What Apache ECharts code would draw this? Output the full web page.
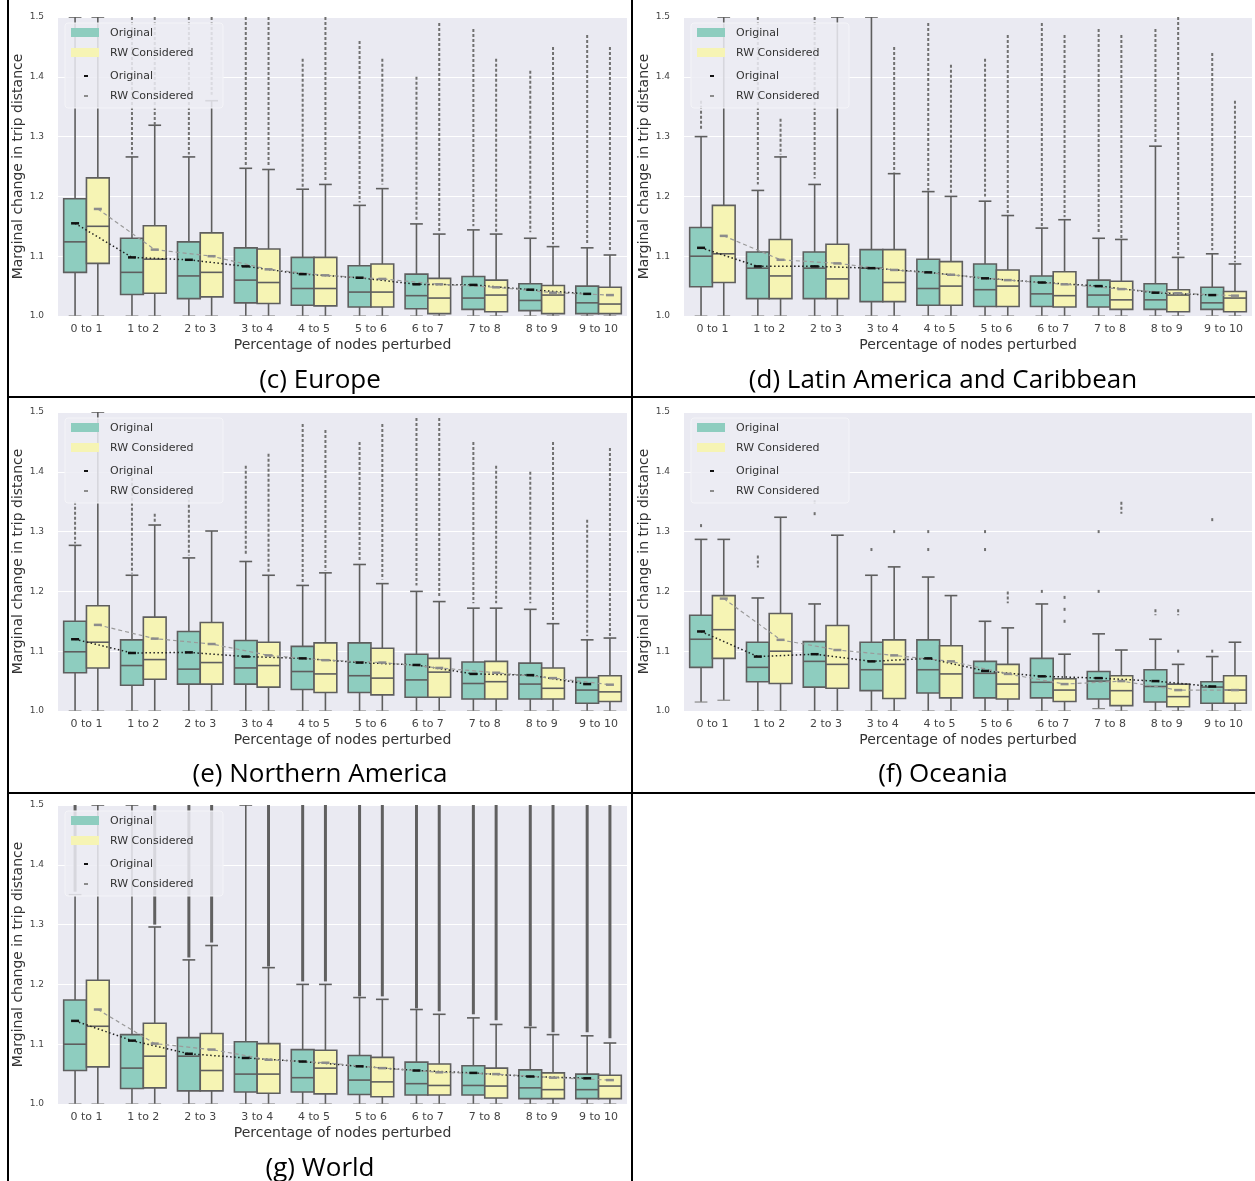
<!DOCTYPE html>
<html>
<head>
<meta charset="utf-8">
<script src="https://cdn.jsdelivr.net/npm/echarts@6/dist/echarts.min.js"></script>
<style>
  html, body { margin: 0; padding: 0; background: #fff; }
  #chart { width: 1255px; height: 1181px; }
</style>
</head>
<body>
<div id="chart"></div>
<script>
// categories on the x axis
const categories = ['0 to 1', '1 to 2', '2 to 3', '3 to 4', '4 to 5',
                    '5 to 6', '6 to 7', '7 to 8', '8 to 9', '9 to 10'];
const hueNames = ['Original', 'RW Considered'];

// boxes: [lower whisker, q1, median, q3, upper whisker]
// outliers: list of [from, to] runs of outlier points for each box
// means: pointplot values

// (c) Europe
const europeOrigBox = [[1.0,1.073,1.124,1.196,1.5],[1.0,1.036,1.073,1.130,1.266],[1.0,1.029,1.067,1.124,1.266],[1.0,1.022,1.060,1.114,1.247],[1.0,1.018,1.046,1.098,1.212],[1.0,1.015,1.040,1.084,1.185],[1.0,1.012,1.034,1.070,1.154],[1.0,1.011,1.030,1.066,1.144],[1.0,1.009,1.026,1.054,1.130],[1.0,1.004,1.022,1.050,1.114]];
const europeRwBox = [[1.0,1.088,1.150,1.231,1.5],[1.0,1.038,1.095,1.151,1.319],[1.0,1.032,1.073,1.139,1.360],[1.0,1.021,1.056,1.112,1.245],[1.0,1.017,1.046,1.098,1.220],[1.0,1.015,1.040,1.087,1.213],[1.0,1.004,1.030,1.063,1.137],[1.0,1.007,1.035,1.060,1.137],[1.0,1.004,1.035,1.051,1.116],[1.0,1.004,1.020,1.048,1.102]];
const europeOrigOut = [[],[[1.27,1.5]],[[1.27,1.5]],[[1.25,1.5]],[[1.215,1.43]],[[1.19,1.46]],[[1.16,1.40]],[[1.15,1.48]],[[1.14,1.41]],[[1.12,1.47]]];
const europeRwOut = [[],[[1.32,1.5]],[[1.37,1.5]],[[1.25,1.5]],[[1.225,1.5]],[[1.22,1.43]],[[1.14,1.49]],[[1.14,1.43]],[[1.12,1.45]],[[1.11,1.45]]];
const europeOrigMean = [1.155,1.098,1.094,1.083,1.070,1.064,1.053,1.052,1.044,1.037];
const europeRwMean = [1.179,1.111,1.100,1.078,1.068,1.062,1.053,1.048,1.039,1.035];

// (d) Latin America and Caribbean
const latamOrigBox = [[1.0,1.049,1.100,1.148,1.300],[1.0,1.029,1.080,1.107,1.210],[1.0,1.029,1.080,1.107,1.220],[1.0,1.024,1.080,1.111,1.5],[1.0,1.018,1.046,1.095,1.208],[1.0,1.016,1.044,1.087,1.192],[1.0,1.016,1.037,1.067,1.147],[1.0,1.015,1.035,1.060,1.130],[1.0,1.011,1.027,1.054,1.284],[1.0,1.011,1.022,1.048,1.104]];
const latamRwBox = [[1.0,1.056,1.104,1.185,1.5],[1.0,1.029,1.067,1.128,1.266],[1.0,1.029,1.062,1.120,1.5],[1.0,1.024,1.056,1.111,1.238],[1.0,1.018,1.050,1.091,1.200],[1.0,1.016,1.050,1.077,1.168],[1.0,1.015,1.034,1.074,1.161],[1.0,1.011,1.027,1.058,1.128],[1.0,1.007,1.035,1.044,1.098],[1.0,1.007,1.030,1.041,1.087]];
const latamOrigOut = [[[1.31,1.36]],[[1.22,1.5]],[[1.23,1.5]],[],[[1.21,1.49]],[[1.20,1.43]],[[1.15,1.49]],[[1.14,1.48]],[[1.29,1.48]],[[1.11,1.44]]];
const latamRwOut = [[],[[1.27,1.33]],[],[[1.24,1.45]],[[1.205,1.42]],[[1.17,1.47]],[[1.165,1.47]],[[1.13,1.47]],[[1.10,1.5]],[[1.09,1.36]]];
const latamOrigMean = [1.114,1.083,1.083,1.080,1.073,1.063,1.056,1.050,1.039,1.035];
const latamRwMean = [1.134,1.094,1.088,1.077,1.069,1.060,1.053,1.045,1.038,1.034];

// (e) Northern America
const namOrigBox = [[1.0,1.064,1.099,1.150,1.277],[1.0,1.043,1.076,1.119,1.227],[1.0,1.045,1.070,1.133,1.256],[1.0,1.045,1.072,1.118,1.250],[1.0,1.036,1.066,1.108,1.210],[1.0,1.031,1.059,1.114,1.245],[1.0,1.023,1.052,1.095,1.200],[1.0,1.020,1.046,1.082,1.172],[1.0,1.020,1.045,1.080,1.170],[1.0,1.013,1.035,1.056,1.119]];
const namRwBox = [[1.0,1.072,1.115,1.176,1.5],[1.0,1.053,1.086,1.157,1.311],[1.0,1.045,1.081,1.148,1.301],[1.0,1.040,1.076,1.115,1.227],[1.0,1.031,1.062,1.114,1.231],[1.0,1.027,1.055,1.105,1.213],[1.0,1.023,1.065,1.088,1.183],[1.0,1.020,1.049,1.083,1.172],[1.0,1.020,1.038,1.072,1.146],[1.0,1.016,1.032,1.059,1.122]];
const namOrigOut = [[[1.28,1.35]],[[1.23,1.39]],[[1.26,1.37]],[[1.26,1.41]],[[1.215,1.48]],[[1.25,1.45]],[[1.21,1.49]],[[1.18,1.45]],[[1.18,1.40]],[[1.125,1.32]]];
const namRwOut = [[],[[1.315,1.33]],[],[[1.23,1.43]],[[1.235,1.47]],[[1.22,1.48]],[[1.19,1.49]],[[1.18,1.41]],[[1.15,1.45]],[[1.125,1.44]]];
const namOrigMean = [1.120,1.097,1.098,1.091,1.088,1.081,1.077,1.062,1.060,1.045];
const namRwMean = [1.144,1.121,1.112,1.093,1.085,1.081,1.072,1.064,1.055,1.044];

// (f) Oceania
const oceOrigBox = [[1.015,1.073,1.120,1.160,1.287],[1.0,1.049,1.073,1.115,1.189],[1.0,1.040,1.083,1.116,1.179],[1.0,1.034,1.069,1.115,1.227],[1.0,1.030,1.069,1.119,1.224],[1.0,1.022,1.063,1.083,1.150],[1.0,1.022,1.048,1.088,1.179],[1.004,1.020,1.050,1.066,1.129],[1.0,1.015,1.041,1.069,1.120],[1.0,1.013,1.040,1.049,1.091]];
const oceRwBox = [[1.018,1.088,1.136,1.193,1.287],[1.0,1.046,1.100,1.163,1.324],[1.0,1.038,1.078,1.143,1.294],[1.0,1.021,1.078,1.119,1.241],[1.0,1.022,1.062,1.109,1.193],[1.0,1.020,1.045,1.078,1.139],[1.0,1.016,1.035,1.054,1.095],[1.0,1.009,1.034,1.059,1.102],[1.0,1.007,1.024,1.045,1.078],[1.0,1.013,1.035,1.059,1.115]];
const oceOrigOut = [[[1.31,1.31]],[[1.24,1.26]],[[1.33,1.33],[1.35,1.35]],[[1.27,1.27]],[[1.27,1.27],[1.30,1.30]],[[1.27,1.27],[1.30,1.30]],[[1.20,1.20]],[[1.20,1.20],[1.30,1.30]],[[1.16,1.17]],[[1.10,1.10],[1.32,1.32]]];
const oceRwOut = [[],[],[],[[1.30,1.30]],[],[[1.18,1.20]],[[1.15,1.15],[1.17,1.17],[1.19,1.19]],[[1.33,1.35]],[[1.10,1.10],[1.16,1.17]],[]];
const oceOrigMean = [1.133,1.091,1.095,1.083,1.088,1.067,1.058,1.055,1.050,1.041];
const oceRwMean = [1.188,1.119,1.102,1.093,1.083,1.062,1.045,1.050,1.035,1.035];

// (g) World
const worldOrigBox = [[1.0,1.056,1.100,1.174,1.350],[1.0,1.026,1.060,1.116,1.5],[1.0,1.022,1.080,1.111,1.241],[1.0,1.020,1.050,1.104,1.5],[1.0,1.020,1.044,1.091,1.200],[1.0,1.016,1.040,1.081,1.178],[1.0,1.015,1.034,1.070,1.158],[1.0,1.015,1.031,1.064,1.144],[1.0,1.009,1.027,1.057,1.128],[1.0,1.009,1.024,1.050,1.114]];
const worldRwBox = [[1.0,1.062,1.130,1.207,1.5],[1.0,1.027,1.080,1.135,1.296],[1.0,1.022,1.056,1.118,1.265],[1.0,1.018,1.050,1.101,1.228],[1.0,1.017,1.060,1.090,1.200],[1.0,1.012,1.037,1.078,1.175],[1.0,1.015,1.031,1.067,1.150],[1.0,1.010,1.030,1.060,1.133],[1.0,1.009,1.024,1.052,1.116],[1.0,1.009,1.030,1.048,1.102]];
const worldOrigOut = [[[1.355,1.5]],[],[[1.245,1.5]],[],[[1.205,1.5]],[[1.18,1.5]],[[1.16,1.5]],[[1.15,1.5]],[[1.13,1.5]],[[1.12,1.5]]];
const worldRwOut = [[],[[1.30,1.5]],[[1.27,1.5]],[[1.23,1.5]],[[1.205,1.5]],[[1.18,1.5]],[[1.155,1.5]],[[1.14,1.5]],[[1.12,1.5]],[[1.11,1.5]]];
const worldOrigMean = [1.139,1.106,1.084,1.077,1.071,1.063,1.056,1.052,1.046,1.043];
const worldRwMean = [1.158,1.101,1.091,1.074,1.069,1.060,1.053,1.050,1.044,1.040];

const xName = 'Percentage of nodes perturbed';
const yName = 'Marginal change in trip distance';
const boxColors = ['#8ecdbf', '#f6f4b4'];
const edge = '#5e5e5e';
const font = 'DejaVu Sans';

const panels = [
  { caption: '(c) Europe', left: 58, top: 17, width: 569, capX: 320, capY: 381,
    box: [europeOrigBox, europeRwBox], out: [europeOrigOut, europeRwOut], mean: [europeOrigMean, europeRwMean], dense: false },
  { caption: '(d) Latin America and Caribbean', left: 684, top: 17, width: 568, capX: 943, capY: 381,
    box: [latamOrigBox, latamRwBox], out: [latamOrigOut, latamRwOut], mean: [latamOrigMean, latamRwMean], dense: false },
  { caption: '(e) Northern America', left: 58, top: 412, width: 569, capX: 320, capY: 775,
    box: [namOrigBox, namRwBox], out: [namOrigOut, namRwOut], mean: [namOrigMean, namRwMean], dense: false },
  { caption: '(f) Oceania', left: 684, top: 412, width: 568, capX: 943, capY: 775,
    box: [oceOrigBox, oceRwBox], out: [oceOrigOut, oceRwOut], mean: [oceOrigMean, oceRwMean], dense: false },
  { caption: '(g) World', left: 58, top: 805, width: 569, capX: 320, capY: 1169,
    box: [worldOrigBox, worldRwBox], out: [worldOrigOut, worldRwOut], mean: [worldOrigMean, worldRwMean], dense: true }
];
const plotHeight = 299;

// box + whiskers + caps
function renderBox(params, api) {
  const x = api.value(0);
  const lo = api.coord([x, api.value(1)]);
  const q1 = api.coord([x, api.value(2)]);
  const md = api.coord([x, api.value(3)]);
  const q3 = api.coord([x, api.value(4)]);
  const hi = api.coord([x, api.value(5)]);
  const w = api.size([0.4, 0])[0];
  const cx = q1[0];
  const cap = w * 0.28;
  const st = { stroke: edge, lineWidth: 1.6 };
  const light = { stroke: '#8a8a8a', lineWidth: 1.2 };
  return {
    type: 'group',
    children: [
      { type: 'line', shape: { x1: cx, y1: q3[1], x2: cx, y2: hi[1] }, style: st },
      { type: 'line', shape: { x1: cx, y1: q1[1], x2: cx, y2: lo[1] }, style: st },
      { type: 'line', shape: { x1: cx - cap, y1: hi[1], x2: cx + cap, y2: hi[1] }, style: st },
      { type: 'line', shape: { x1: cx - cap, y1: lo[1], x2: cx + cap, y2: lo[1] }, style: light },
      { type: 'rect', shape: { x: cx - w / 2, y: q3[1], width: w, height: q1[1] - q3[1] },
        style: { fill: api.visual('color'), stroke: edge, lineWidth: 1.6 } },
      { type: 'line', shape: { x1: cx - w / 2, y1: md[1], x2: cx + w / 2, y2: md[1] }, style: st }
    ]
  };
}

function makeOutRender(dense) {
  return function (params, api) {
    const a = api.coord([api.value(0), api.value(1)]);
    const b = api.coord([api.value(0), api.value(2)]);
    let y1 = b[1], y2 = a[1];
    if (y2 - y1 < 3) { const m = (y1 + y2) / 2; y1 = m - 1.5; y2 = m + 1.5; }
    return {
      type: 'line',
      shape: { x1: a[0], y1: y1, x2: a[0], y2: y2 },
      style: dense ? { stroke: '#606060', lineWidth: 3 }
                   : { stroke: '#707070', lineWidth: 2, lineDash: [3, 2] }
    };
  };
}

const grids = [], xAxes = [], yAxes = [], series = [], graphics = [];

panels.forEach((p, i) => {
  grids.push({ left: p.left, top: p.top, width: p.width, height: plotHeight,
    show: true, backgroundColor: '#eaeaf2', borderWidth: 0 });
  xAxes.push({
    type: 'category', gridIndex: i, data: categories,
    axisLine: { show: false }, axisTick: { show: false },
    axisLabel: { fontFamily: font, fontSize: 11, color: '#444', margin: 8 },
    splitLine: { show: false },
    name: xName, nameLocation: 'middle', nameGap: 22,
    nameTextStyle: { fontFamily: font, fontSize: 14, color: '#333' }
  });
  xAxes.push({ type: 'value', gridIndex: i, min: -0.5, max: 9.5, show: false });
  yAxes.push({
    type: 'value', gridIndex: i, min: 1.0, max: 1.5, interval: 0.1,
    axisLine: { show: false }, axisTick: { show: false },
    axisLabel: { fontFamily: font, fontSize: 9, color: '#444', margin: 14,
      formatter: v => v.toFixed(1) },
    splitLine: { show: true, lineStyle: { color: '#ffffff', width: 1.2 } },
    name: yName, nameLocation: 'middle', nameGap: 32,
    nameTextStyle: { fontFamily: font, fontSize: 14, color: '#333' }
  });

  [0, 1].forEach(h => {
    const off = h === 0 ? -0.2 : 0.2;
    const outData = [];
    p.out[h].forEach((runs, k) => runs.forEach(r => outData.push([k + off, r[0], r[1]])));
    series.push({
      type: 'custom', name: hueNames[h] + ' out', xAxisIndex: 2 * i + 1, yAxisIndex: i,
      clip: true, z: 2, silent: true,
      renderItem: makeOutRender(p.dense), data: outData
    });
    series.push({
      type: 'custom', name: hueNames[h], xAxisIndex: 2 * i + 1, yAxisIndex: i,
      clip: true, z: 3, silent: true,
      itemStyle: { color: boxColors[h] },
      renderItem: renderBox,
      data: p.box[h].map((b, k) => [k + off].concat(b))
    });
  });

  [0, 1].forEach(h => {
    const off = h === 0 ? -0.2 : 0.2;
    series.push({
      type: 'line', name: hueNames[h] + ' mean', xAxisIndex: 2 * i + 1, yAxisIndex: i,
      z: 5, silent: true,
      data: p.mean[h].map((v, k) => [k + off, v]),
      symbol: 'rect', symbolSize: [8, 2.5],
      itemStyle: { color: h === 0 ? '#111' : '#8c8c8c' },
      lineStyle: h === 0 ? { color: '#222', width: 1.5, type: [1.5, 2.5] }
                         : { color: '#9a9a9a', width: 1.2, type: [4, 3] }
    });
  });

  // legend box, drawn over the plot
  const lx = p.left + 7, ly = p.top + 6;
  const lt = (y, text) => ({ type: 'text', x: lx + 45, y: ly + y, z: 20,
    style: { text: text, font: '11px ' + font, fill: '#333', verticalAlign: 'middle' } });
  graphics.push(
    { type: 'rect', z: 20, shape: { x: lx, y: ly, width: 158, height: 85, r: 3 },
      style: { fill: 'rgba(236,236,243,0.85)', stroke: '#f4f4f8', lineWidth: 1 } },
    { type: 'rect', z: 20, shape: { x: lx + 6, y: ly + 5, width: 28, height: 9 }, style: { fill: boxColors[0] } },
    { type: 'rect', z: 20, shape: { x: lx + 6, y: ly + 25, width: 28, height: 9 }, style: { fill: boxColors[1] } },
    { type: 'rect', z: 20, shape: { x: lx + 19, y: ly + 52, width: 4, height: 2 }, style: { fill: '#111' } },
    { type: 'rect', z: 20, shape: { x: lx + 19, y: ly + 72, width: 4, height: 2 }, style: { fill: '#8c8c8c' } },
    lt(10, 'Original'), lt(30, 'RW Considered'), lt(53, 'Original'), lt(73, 'RW Considered')
  );

  // caption
  graphics.push({
    type: 'text', x: p.capX, y: p.capY, z: 20,
    style: { text: p.caption, font: '26px "Open Sans"', fill: '#000',
      align: 'center', verticalAlign: 'middle' }
  });
});

// table borders
const border = { stroke: '#000', lineWidth: 2 };
graphics.push(
  { type: 'line', z: 20, shape: { x1: 8, y1: 0, x2: 8, y2: 1181 }, style: border },
  { type: 'line', z: 20, shape: { x1: 632, y1: 0, x2: 632, y2: 1181 }, style: border },
  { type: 'line', z: 20, shape: { x1: 8, y1: 397, x2: 1255, y2: 397 }, style: border },
  { type: 'line', z: 20, shape: { x1: 8, y1: 793, x2: 1255, y2: 793 }, style: border }
);

const chart = echarts.init(document.getElementById('chart'));
chart.setOption({
  animation: false,
  backgroundColor: '#ffffff',
  grid: grids,
  xAxis: xAxes,
  yAxis: yAxes,
  series: series,
  graphic: { elements: graphics }
});
</script>
</body>
</html>
